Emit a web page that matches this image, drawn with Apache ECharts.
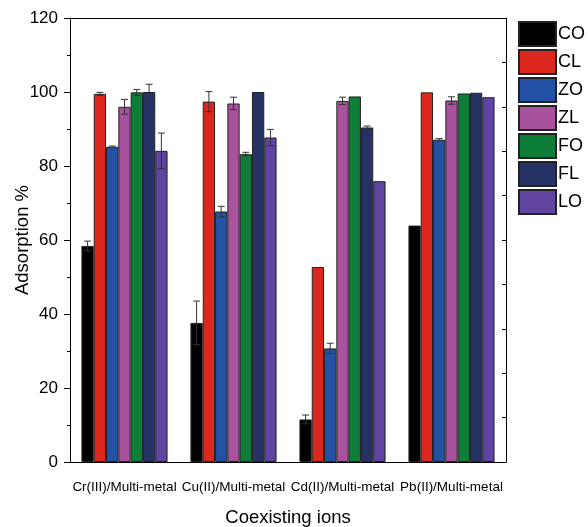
<!DOCTYPE html>
<html>
<head>
<meta charset="utf-8">
<script src="https://cdn.jsdelivr.net/npm/echarts@6/dist/echarts.min.js"></script>
<style>
  html, body { margin: 0; padding: 0; background: #fff; }
  #chart { width: 588px; height: 527px; }
</style>
</head>
<body>
<div id="chart"></div>
<script>
// categories
const categories = ["Cr(III)/Multi-metal", "Cu(II)/Multi-metal", "Cd(II)/Multi-metal", "Pb(II)/Multi-metal"];
const seriesNames = ["CO", "CL", "ZO", "ZL", "FO", "FL", "LO"];
const colors = ["#000000", "#dc271f", "#2352a4", "#a8529e", "#0f7d3a", "#263264", "#5f44a0"];

// adsorption % per series (one value per category)
const CO = [58.4, 37.6, 11.5, 63.9];
const CL = [99.5, 97.4, 52.7, 99.9];
const ZO = [85.2, 67.7, 30.7, 87.1];
const ZL = [96.0, 96.9, 97.6, 97.7];
const FO = [99.9, 83.2, 98.8, 99.6];
const FL = [100.0, 100.0, 90.4, 99.8];
const LO = [84.1, 87.7, 75.9, 98.6];

// error bar half-heights
const CO_err = [1.3, 5.9, 1.2, 0];
const CL_err = [0.4, 2.7, 0, 0];
const ZO_err = [0.2, 1.4, 1.4, 0.3];
const ZL_err = [2.0, 1.7, 1.0, 1.0];
const FO_err = [0.8, 0.5, 0, 0];
const FL_err = [2.1, 0, 0.4, 0];
const LO_err = [4.8, 2.2, 0, 0];

const values = [CO, CL, ZO, ZL, FO, FL, LO];
const errors = [CO_err, CL_err, ZO_err, ZL_err, FO_err, FL_err, LO_err];

const yTicks = [0, 20, 40, 60, 80, 100, 120];

const catGap = 0.21;
const font = "Liberation Sans, Arial, sans-serif";

const errData = [];
values.forEach(function (arr, s) {
  arr.forEach(function (v, c) {
    errData.push([c, s, v, errors[s][c]]);
  });
});

const chart = echarts.init(document.getElementById("chart"));

const barSeries = seriesNames.map(function (name, i) {
  return {
    name: name,
    type: "bar",
    xAxisIndex: 0,
    yAxisIndex: 0,
    data: values[i],
    barGap: "0%",
    barCategoryGap: (catGap * 100) + "%",
    itemStyle: { color: colors[i], borderColor: "#222", borderWidth: 1 },
    animation: false
  };
});

const errSeries = {
  type: "custom",
  xAxisIndex: 0,
  yAxisIndex: 0,
  z: 5,
  animation: false,
  data: errData,
  encode: { x: 0, y: 2 },
  renderItem: function (params, api) {
    const cat = api.value(0), s = api.value(1), v = api.value(2), e = api.value(3);
    if (!e) return null;
    const band = api.size([1, 0])[0];
    const bw = band * (1 - catGap) / seriesNames.length;
    const x = api.coord([cat, v])[0] + (s - (seriesNames.length - 1) / 2) * bw;
    const yTop = api.coord([cat, v + e])[1];
    const yBot = api.coord([cat, v - e])[1];
    const cap = 3.5;
    const st = { stroke: "#333", lineWidth: 1 };
    return {
      type: "group",
      children: [
        { type: "line", shape: { x1: x, y1: yTop, x2: x, y2: yBot }, style: st },
        { type: "line", shape: { x1: x - cap, y1: yTop, x2: x + cap, y2: yTop }, style: st },
        { type: "line", shape: { x1: x - cap, y1: yBot, x2: x + cap, y2: yBot }, style: st }
      ]
    };
  }
};

chart.setOption({
  backgroundColor: "#fff",
  textStyle: { fontFamily: font },
  grid: { left: 70, right: 82, top: 18, bottom: 65, containLabel: false, outerBoundsMode: "none" },
  legend: {
    data: seriesNames,
    orient: "vertical",
    left: 518,
    top: 21,
    padding: 0,
    itemWidth: 37,
    itemHeight: 24,
    itemGap: 2,
    icon: "rect",
    textStyle: { fontSize: 18, lineHeight: 20, color: "#000", fontFamily: font, padding: [0, 0, 0, -3] }
  },
  xAxis: [
    {
      type: "category",
      data: categories,
      position: "bottom",
      offset: 0,
      axisLine: { lineStyle: { color: "#000", width: 1 } },
      axisTick: { length: 5, lineStyle: { color: "#000" } },
      axisLabel: { fontSize: 13.5, color: "#000", margin: 18, interval: 0, fontFamily: font },
      name: "Coexisting ions",
      nameLocation: "middle",
      nameGap: 46,
      nameTextStyle: { fontSize: 18.5, color: "#000", fontFamily: font }
    },
    {
      type: "category",
      data: categories,
      position: "bottom",
      offset: 0,
      axisLine: { show: false },
      axisTick: { alignWithLabel: true, length: 10, lineStyle: { color: "#000" } },
      axisLabel: { show: false }
    },
    {
      type: "category",
      data: categories,
      position: "top",
      offset: 0,
      axisLine: { lineStyle: { color: "#000", width: 1 } },
      axisTick: { show: false },
      axisLabel: { show: false }
    }
  ],
  yAxis: [
    {
      type: "value",
      position: "left",
      min: yTicks[0],
      max: yTicks[yTicks.length - 1],
      interval: 20,
      axisLine: { show: true, lineStyle: { color: "#000", width: 1 } },
      axisTick: { show: true, length: 6, lineStyle: { color: "#000" } },
      minorTick: { show: true, splitNumber: 2, length: 3, lineStyle: { color: "#000" } },
      splitLine: { show: false },
      axisLabel: { fontSize: 17, color: "#000", margin: 12, fontFamily: font },
      name: "Adsorption %",
      nameLocation: "middle",
      nameGap: 38,
      nameMoveOverlap: false,
      nameTextStyle: { fontSize: 18.5, color: "#000", fontFamily: font }
    },
    {
      type: "value",
      position: "right",
      min: 0,
      max: 120,
      interval: 12,
      axisLine: { show: true, lineStyle: { color: "#000", width: 1 } },
      axisTick: { show: true, inside: true, length: 4, lineStyle: { color: "#000" } },
      splitLine: { show: false },
      axisLabel: { show: false }
    }
  ],
  series: barSeries.concat([errSeries])
});
</script>
</body>
</html>
